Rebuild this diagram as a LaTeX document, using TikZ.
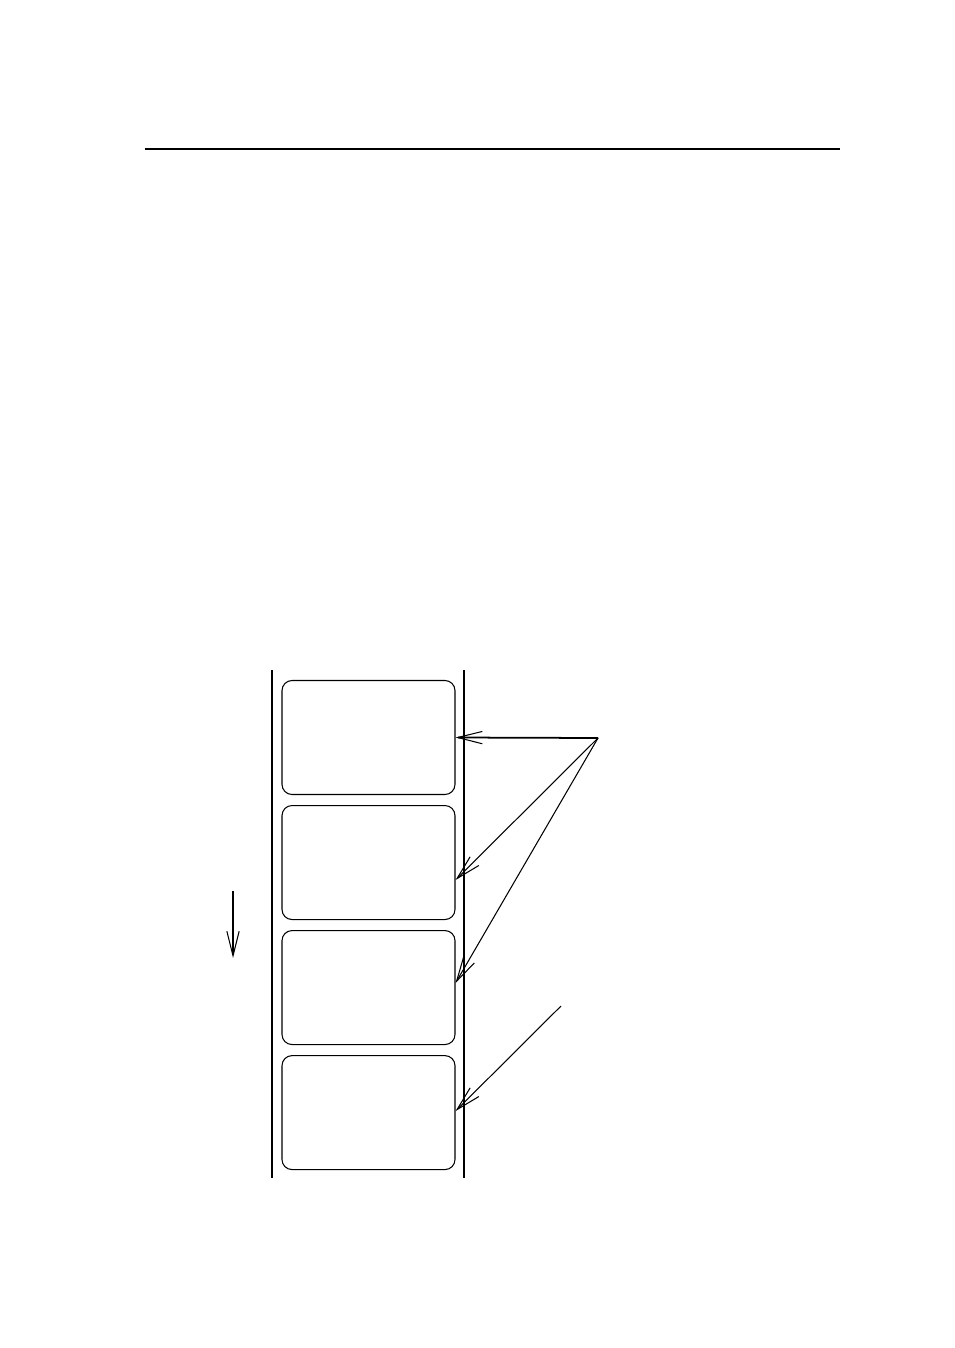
\documentclass[tikz,border=0pt]{standalone}
\usetikzlibrary{positioning,arrows.meta}
\begin{document}
\begin{tikzpicture}
[x=0.02cm,y=-0.02cm,
   frame/.style={draw,rounded corners=0.2cm,minimum width=3.46cm,minimum height=2.28cm,line width=0.6pt},
   pointer/.style={line width=0.6pt,-{Straight Barb[length=14pt,width=7pt,line width=0.6pt]}},
   node distance=0.2cm]
\useasboundingbox (0,0) rectangle (954,1348);
\draw[line width=1.1pt] (145,149) -- (840,149);
% tape edges
\draw[line width=0.6pt] (272,670) -- (272,1178);
\draw[line width=0.6pt] (464,670) -- (464,1178);
% frames
\node[frame] (f1) at (368.5,737.5) {};
\node[frame,below=of f1] (f2) {};
\node[frame,below=of f2] (f3) {};
\node[frame,below=of f3] (f4) {};
\coordinate (hub) at (598,738);
\coordinate (tail) at (561,1006);
\draw[pointer,line width=1pt] (hub) -- (f1.east);
\draw[pointer] (hub) -- ([yshift=-0.35cm]f2.east);
\draw[pointer] (hub) -- ([yshift=0.09cm]f3.east);
\draw[pointer] (tail) -- ([yshift=0.03cm]f4.east);
% direction
\coordinate (d1) at (233,891);
\coordinate (d2) at (233,958);
\draw[pointer,line width=1pt] (d1) -- (d2);
\end{tikzpicture}
\end{document}
